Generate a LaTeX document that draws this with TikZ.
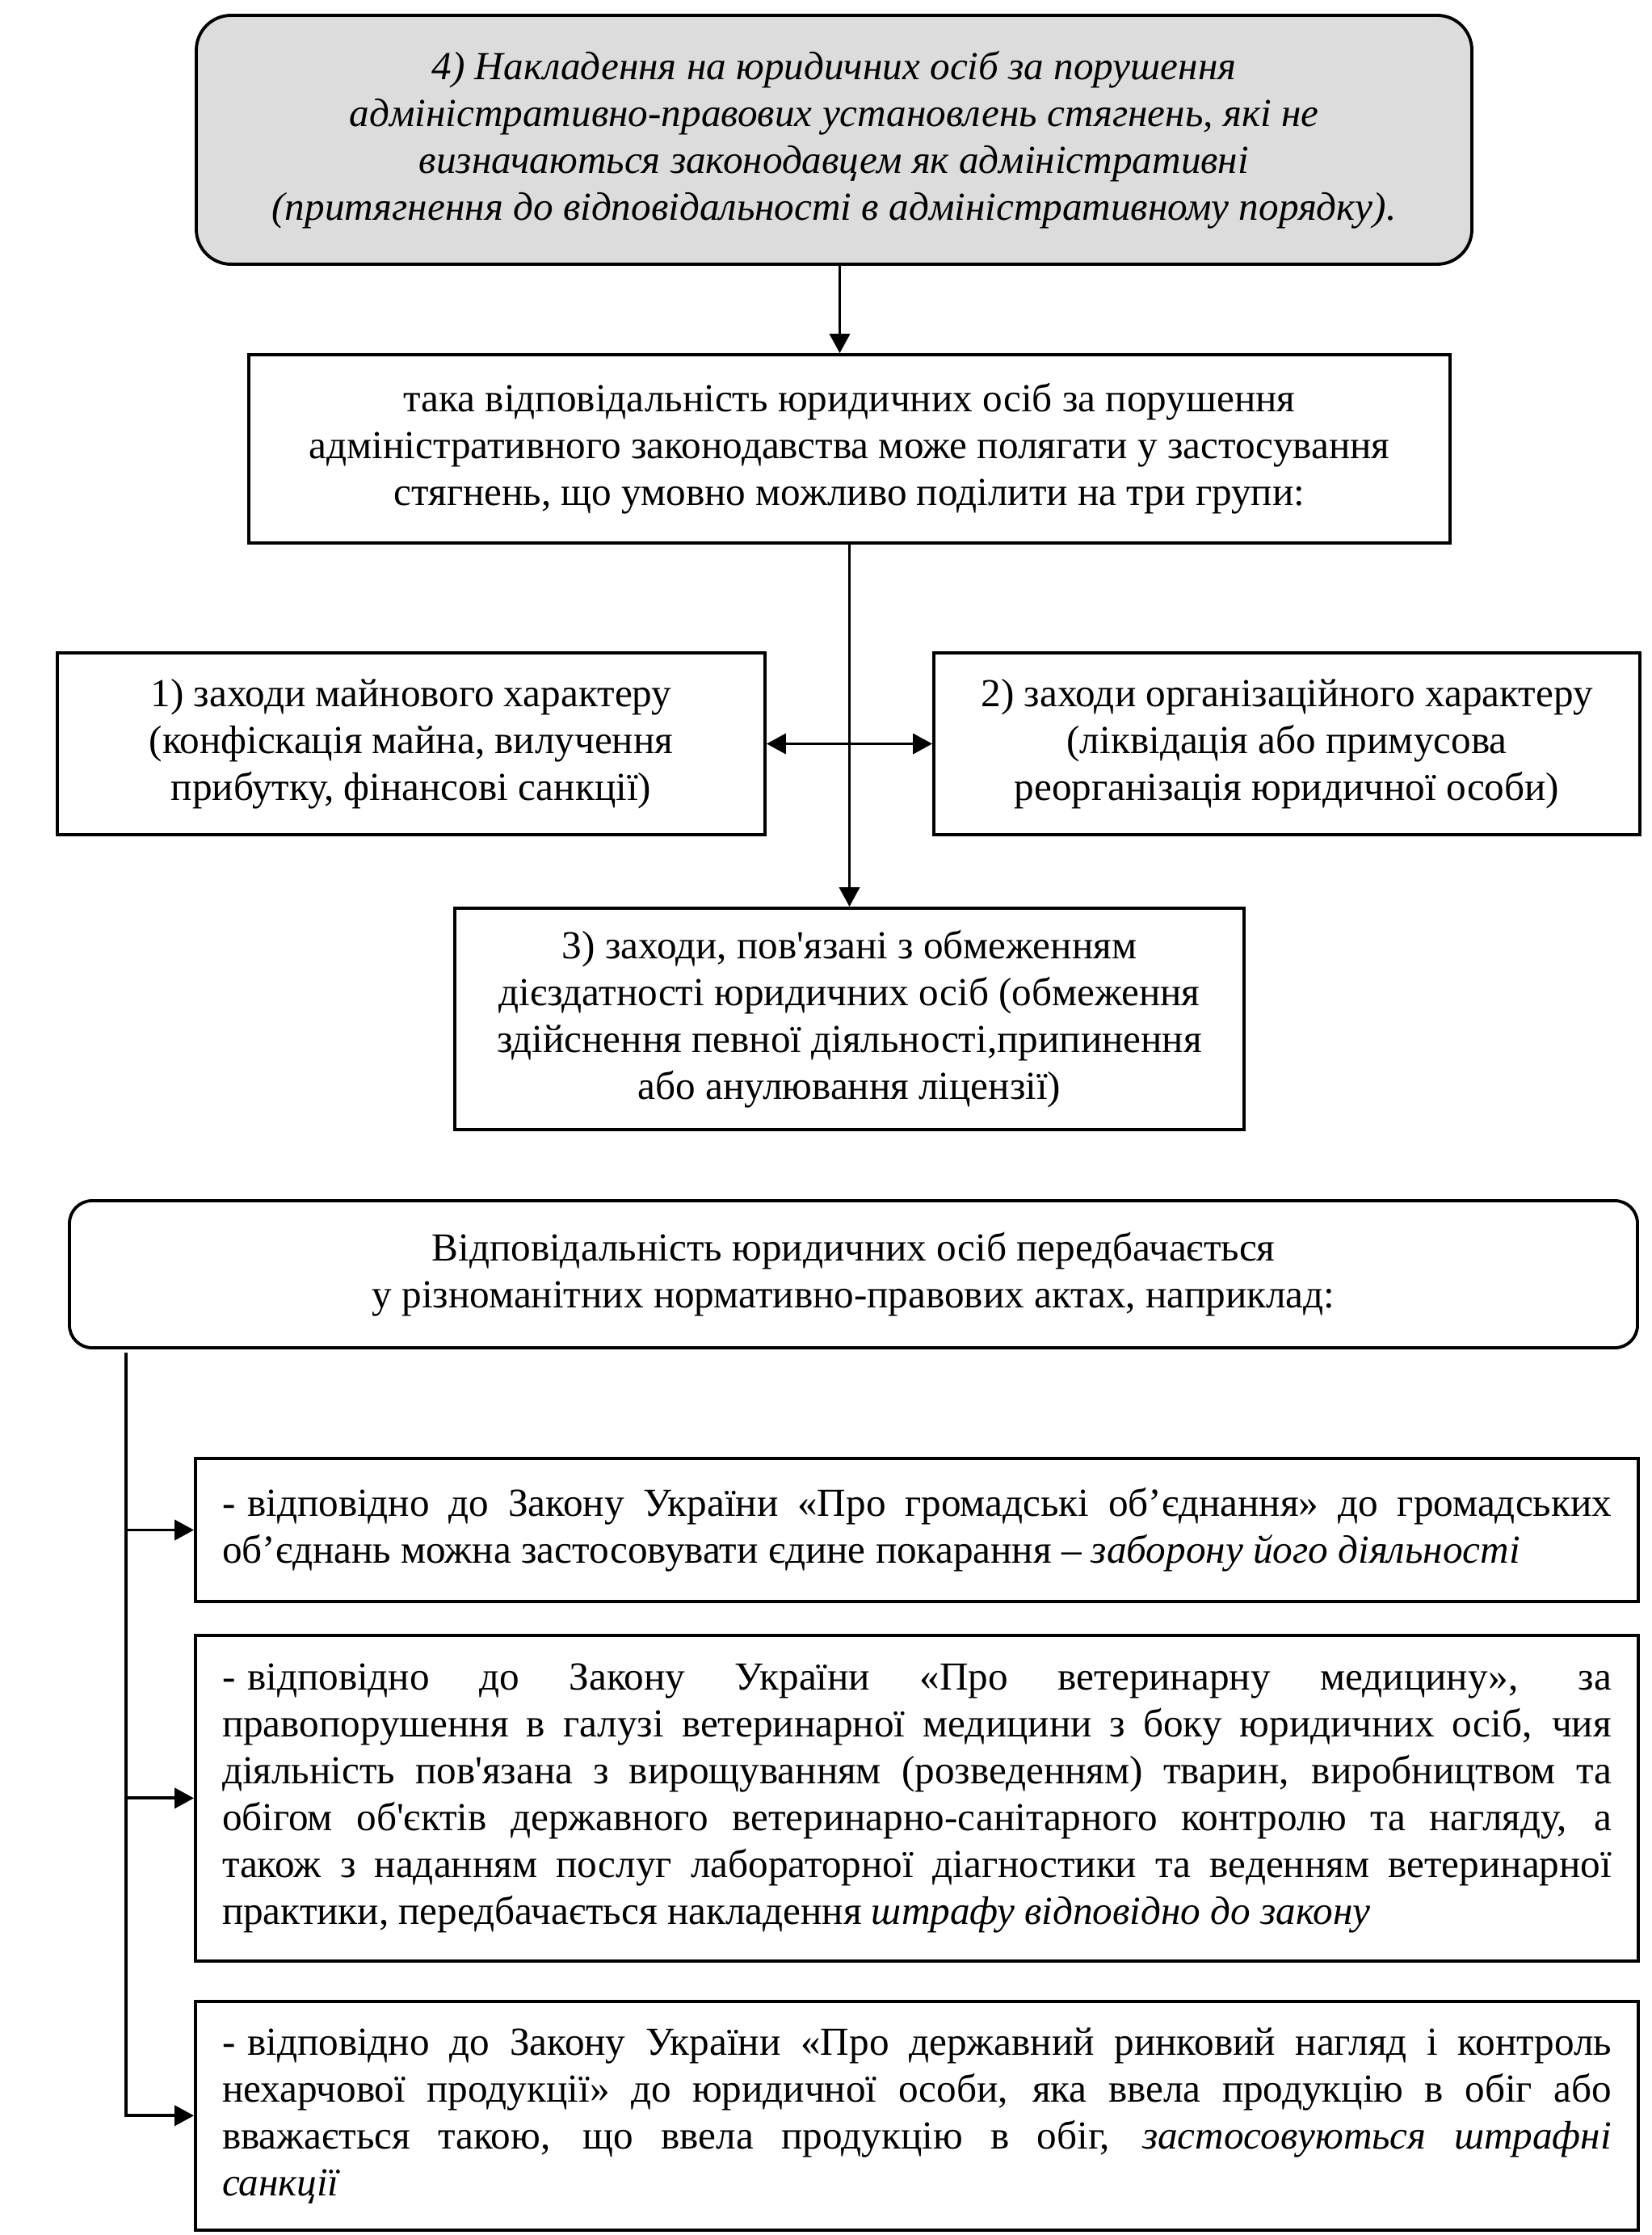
\documentclass[tikz,border=0pt]{standalone}
\usepackage{fontspec}
\setmainfont{Liberation Serif}[Ligatures=TeXOff]
\usetikzlibrary{positioning,arrows.meta}
\definecolor{headgray}{RGB}{220,220,220}
\newcommand{\lawdash}{-\kern0.3em}

\begin{document}
\begin{tikzpicture}[
box/.style={
	draw, rectangle, line width=1.1pt,
	align=center, inner sep=0pt,
	font=\fontsize{14}{16.5}\selectfont
},
headbox/.style={
	box, rounded corners=0.43cm, fill=headgray,
	font=\fontsize{14}{16.5}\selectfont\itshape
},
actbox/.style={box, rounded corners=0.28cm},
lawbox/.style={
	box, align=justify, text width=17.2cm,
	minimum width=17.86cm, inner xsep=0.33cm
},
>={Triangle[length=0.24cm,width=0.25cm]}, line width=1.1pt
]
\useasboundingbox (0,0) rectangle (20.44,-27.66);
\node[headbox, minimum width=15.79cm, minimum height=3.08cm] (punish) at (10.325,-1.73)
	{4) Накладення на юридичних осіб за порушення\\
	адміністративно-правових установлень стягнень, які не\\
	визначаються законодавцем як адміністративні\\
	(притягнення до відповідальності в адміністративному порядку).};
\node[box, minimum width=14.87cm, minimum height=2.33cm] (groups) at (10.515,-5.555)
	{така відповідальність юридичних осіб за порушення\\
	адміністративного законодавства може полягати у застосування\\
	стягнень, що умовно можливо поділити на три групи:};
\node[box, minimum width=8.76cm, minimum height=2.25cm] (prop) at (5.09,-9.205)
	{1) заходи майнового характеру\\
	(конфіскація майна, вилучення\\
	прибутку, фінансові санкції)};
\node[box, minimum width=8.74cm, minimum height=2.25cm] (org) at (15.93,-9.205)
	{2) заходи організаційного характеру\\
	(ліквідація або примусова\\
	реорганізація юридичної особи)};
\node[box, minimum width=9.77cm, minimum height=2.74cm] (capac) at (10.515,-12.61)
	{3) заходи, пов'язані з обмеженням\\
	дієздатності юридичних осіб (обмеження\\
	здійснення певної діяльності,припинення\\
	або анулювання ліцензії)};
\node[actbox, minimum width=19.41cm, minimum height=1.82cm] (acts) at (10.565,-15.77)
	{Відповідальність юридичних осіб передбачається\\
	у різноманітних нормативно-правових актах, наприклад:};
\node[lawbox, minimum height=1.77cm] (lawA) at (11.35,-18.935)
	{\lawdash відповідно до Закону України «Про громадські об’єднання» до громадських\linebreak
	об’єднань можна застосовувати єдине покарання – \textit{заборону його діяльності}};
\node[lawbox, minimum height=4.03cm, below=0.38cm of lawA] (lawB)
	{\lawdash відповідно до Закону України «Про ветеринарну медицину», за\linebreak
	правопорушення в галузі ветеринарної медицини з боку юридичних осіб, чия\linebreak
	діяльність пов'язана з вирощуванням (розведенням) тварин, виробництвом та\linebreak
	обігом об'єктів державного ветеринарно-санітарного контролю та нагляду, а\linebreak
	також з наданням послуг лабораторної діагностики та веденням ветеринарної\linebreak
	практики, передбачається накладення \textit{штрафу відповідно до закону}};
\node[lawbox, minimum height=2.83cm, below=0.46cm of lawB] (lawC)
	{\lawdash відповідно до Закону України «Про державний ринковий нагляд і контроль\linebreak
	нехарчової продукції» до юридичної особи, яка ввела продукцію в обіг або\linebreak
	вважається такою, що ввела продукцію в обіг, \textit{застосовуються штрафні}\linebreak
	\textit{санкції}};
\coordinate (spine) at (1.56,-16.74);

\draw[->] ([xshift=0.07cm]punish.south) -- ([xshift=0.07cm]punish.south |- groups.north);
\draw[<->] (prop.east) -- (org.west);
\draw[->] (groups.south) -- (capac.north);
\draw[->] (spine) |- (lawC.west);
\foreach \n in {lawA,lawB}
{
	\draw[->] (spine |- \n.west) -- (\n.west);
}
\end{tikzpicture}
\end{document}
